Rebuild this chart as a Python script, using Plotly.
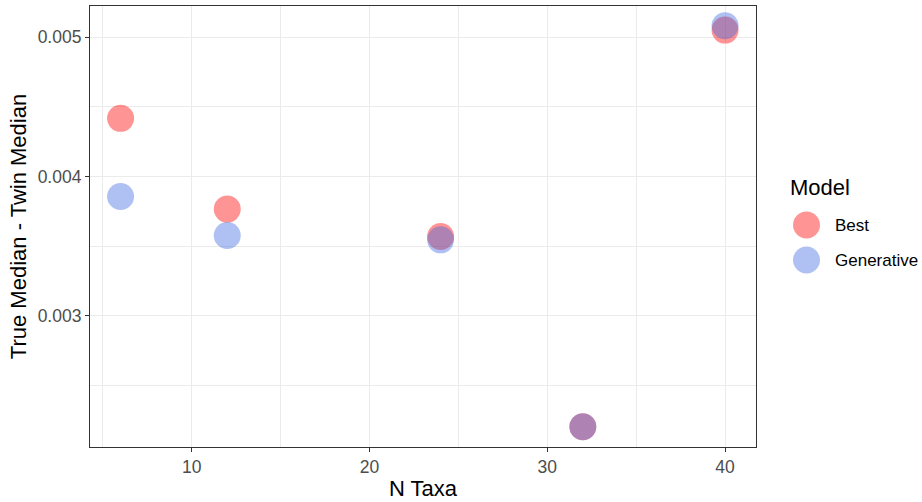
import plotly.graph_objects as go

n_taxa = [6, 12, 24, 32, 40]
best = [0.004418, 0.003766, 0.003569, 0.002203, 0.005052]
generative = [0.003856, 0.003576, 0.003545, 0.002203, 0.005083]
series_names = ["Best", "Generative"]
series_colors = ["rgba(255,0,0,0.42)", "rgba(65,105,225,0.42)"]

FONT = "Liberation Sans, Arial, sans-serif"
L, R, T, B = 90, 166, 6, 55
W, H = 922, 502
pw, ph = W - L - R, H - T - B

fig = go.Figure()
for name, vals, col in zip(series_names, [best, generative], series_colors):
    fig.add_trace(go.Scatter(x=n_taxa, y=vals, mode="markers", name=name,
                             marker=dict(size=27, color=col, line=dict(width=0)),
                             showlegend=False))

axis_common = dict(showline=True, linecolor="#333333", linewidth=1.1, mirror=True,
                   ticks="outside", ticklen=4, tickcolor="#333333", tickwidth=1.1,
                   showgrid=True, gridcolor="#EBEBEB", gridwidth=1.1, zeroline=False,
                   tickfont=dict(family=FONT, size=17.5, color="#4D4D4D"))

fig.update_xaxes(range=[4.28, 41.74], tickvals=[10, 20, 30, 40],
                 minor=dict(tickvals=[5, 15, 25, 35], showgrid=True, gridcolor="#EBEBEB",
                            gridwidth=0.6, ticks=""),
                 title=dict(text="N Taxa", font=dict(family=FONT, size=22, color="black"),
                            standoff=4),
                 **axis_common)
fig.update_yaxes(range=[0.002057, 0.005225], tickvals=[0.003, 0.004, 0.005],
                 ticktext=["0.003", "0.004", "0.005"],
                 minor=dict(tickvals=[0.0025, 0.0035, 0.0045], showgrid=True,
                            gridcolor="#EBEBEB", gridwidth=0.6, ticks=""),
                 title=dict(text="True Median - Twin Median",
                            font=dict(family=FONT, size=22, color="black"), standoff=4),
                 **axis_common)

# manual legend (ggplot style)
def px_x(p):
    return (p - L) / pw

def px_y(p):
    return (H - B - p) / ph

fig.add_annotation(x=px_x(788), y=px_y(187), xref="paper", yref="paper",
                   text="Model", showarrow=False, xanchor="left", yanchor="middle",
                   font=dict(family=FONT, size=22, color="black"))
for i, (name, col) in enumerate(zip(series_names, series_colors)):
    cy = 225 + 35 * i
    fig.add_shape(type="circle", xref="paper", yref="paper",
                  xsizemode="pixel", ysizemode="pixel",
                  xanchor=px_x(806.5), yanchor=px_y(cy),
                  x0=-13.5, x1=13.5, y0=-13.5, y1=13.5,
                  fillcolor=col, line=dict(width=0))
    fig.add_annotation(x=px_x(833), y=px_y(cy), xref="paper", yref="paper",
                       text=name, showarrow=False, xanchor="left", yanchor="middle",
                       font=dict(family=FONT, size=17, color="black"))

fig.update_layout(width=W, height=H, margin=dict(l=L, r=R, t=T, b=B),
                  paper_bgcolor="white", plot_bgcolor="white", showlegend=False)

fig.write_html("out.html")
